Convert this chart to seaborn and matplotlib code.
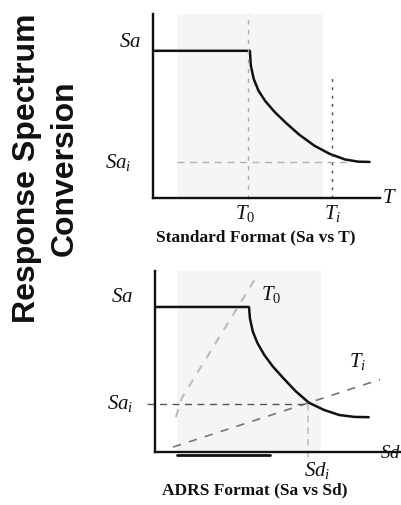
import matplotlib
matplotlib.use('Agg')
import matplotlib.pyplot as plt
import seaborn as sns
import pandas as pd

# ---------------- data (schematic units) ----------------
# standard format: Sa vs T
T_plateau = [0.0, 1.02]
Sa_plateau_top = [1.0, 1.0]
T_curve = [1.02, 1.03, 1.06, 1.11, 1.18, 1.28, 1.40, 1.54, 1.70, 1.86, 2.02, 2.16, 2.28]
Sa_curve_top = [1.0, 0.90, 0.81, 0.73, 0.66, 0.585, 0.51, 0.43, 0.355, 0.30, 0.262, 0.247, 0.245]
T0 = 1.0
Ti = 1.88
Sai_top = 0.245

# ADRS format: Sa vs Sd
Sd_plateau = [0.0, 0.99]
Sa_plateau_bot = [1.0, 1.0]
Sd_curve = [0.99, 1.00, 1.03, 1.08, 1.15, 1.24, 1.35, 1.48, 1.62, 1.78, 1.94, 2.10, 2.25]
Sa_curve_bot = [1.0, 0.92, 0.83, 0.75, 0.67, 0.59, 0.51, 0.42, 0.34, 0.29, 0.255, 0.242, 0.24]
T0_ray_sd = [0.22, 0.28, 1.07]
T0_ray_sa = [0.24, 0.37, 1.21]
Ti_ray_sd = [0.19, 2.37]
Ti_ray_sa = [0.034, 0.50]
Sdi = 1.61
Sai_bot = 0.33

sns.set_style('white')
plt.rcParams['font.family'] = ['Liberation Serif', 'DejaVu Serif']
plt.rcParams['mathtext.fontset'] = 'custom'
plt.rcParams['mathtext.it'] = 'Liberation Serif:italic'
plt.rcParams['mathtext.rm'] = 'Liberation Serif'

fig = plt.figure(figsize=(4.01, 5.06), dpi=100)
W, H = 401, 506


def px_axes(x0, x1, y_top, y_bot):
    return fig.add_axes([x0 / W, 1 - y_bot / H, (x1 - x0) / W, (y_bot - y_top) / H])


def style(ax, xmax, ymax):
    ax.set_xlim(0, xmax)
    ax.set_ylim(0, ymax)
    for s in ['top', 'right']:
        ax.spines[s].set_visible(False)
    for s in ['left', 'bottom']:
        ax.spines[s].set_linewidth(1.7)
        ax.spines[s].set_color('#111111')
    ax.set_xticks([])
    ax.set_yticks([])
    ax.set_xlabel('')
    ax.set_ylabel('')
    ax.patch.set_alpha(0)


lab = dict(fontsize=15, color='#111111')

# ---------------- top panel ----------------
ax1 = px_axes(153, 380, 15, 199)
ax1.axvspan(0.25, 1.79, color='#f5f5f5', zorder=0, lw=0)

top = pd.DataFrame({'T': T_plateau + T_curve, 'Sa': Sa_plateau_top + Sa_curve_top})
sns.lineplot(data=top, x='T', y='Sa', sort=False, color='#111111', lw=1.8, ax=ax1,
             solid_joinstyle='round')

ax1.plot([T0, T0], [-0.01, 1.25], ls=(0, (3, 4)), color='#aaaaaa', lw=1.0, clip_on=False)
ax1.plot([Ti, Ti], [0, 0.82], ls=(0, (2, 4)), color='#444444', lw=1.0, clip_on=False)
ax1.plot([0.25, 2.07], [Sai_top, Sai_top], ls=(0, (5, 4)), color='#b0b0b0', lw=1.0)

style(ax1, 2.39, 1.25)
ax1.text(-0.24, 1.06, '$Sa$', ha='center', va='center', **lab)
ax1.text(-0.37, 0.25, '$Sa_i$', ha='center', va='center', **lab)
ax1.text(2.49, 0.0, '$T$', ha='center', va='center', **lab)
ax1.text(0.97, -0.10, '$T_0$', ha='center', va='center', **lab)
ax1.text(1.89, -0.10, '$T_i$', ha='center', va='center', **lab)
ax1.text(1.08, -0.26, 'Standard Format (Sa vs T)', ha='center', va='center',
         fontsize=12.5, fontweight='bold', color='#111111')

# ---------------- bottom panel ----------------
ax2 = px_axes(155, 400, 272, 453)
ax2.axvspan(0.23, 1.75, color='#f5f5f5', zorder=0, lw=0)

bot = pd.DataFrame({'Sd': Sd_plateau + Sd_curve, 'Sa': Sa_plateau_bot + Sa_curve_bot})
sns.lineplot(data=bot, x='Sd', y='Sa', sort=False, color='#111111', lw=1.8, ax=ax2,
             solid_joinstyle='round')

ax2.plot(T0_ray_sd, T0_ray_sa, ls=(0, (4, 4)), color='#bbbbbb', lw=1.5, clip_on=False)
ax2.plot(Ti_ray_sd, Ti_ray_sa, ls=(0, (5, 5)), color='#777777', lw=1.2, clip_on=False)
ax2.plot([-0.08, Sdi], [Sai_bot, Sai_bot], ls=(0, (5, 4)), color='#555555', lw=1.0, clip_on=False)
ax2.plot([Sdi, Sdi], [Sai_bot, -0.06], ls=(0, (4, 3)), color='#c0c0c0', lw=1.2, clip_on=False)
ax2.plot([0.23, 1.21], [-0.02, -0.02], color='#111111', lw=2.0, clip_on=False)

style(ax2, 2.58, 1.248)
ax2.text(-0.35, 1.07, '$Sa$', ha='center', va='center', **lab)
ax2.text(1.22, 1.09, '$T_0$', ha='center', va='center', **lab)
ax2.text(2.13, 0.63, '$T_i$', ha='center', va='center', **lab)
ax2.text(-0.37, 0.34, '$Sa_i$', ha='center', va='center', **lab)
ax2.text(1.71, -0.12, '$Sd_i$', ha='center', va='center', **lab)
ax2.text(2.37, 0.0, '$Sd$', ha='left', va='center', fontsize=13.5, color='#111111')
ax2.text(1.05, -0.26, 'ADRS Format (Sa vs Sd)', ha='center', va='center',
         fontsize=12.5, fontweight='bold', color='#111111')

# ---------------- side title ----------------
fig.text(27 / W, 1 - 168 / H, 'Response Spectrum', rotation=90, ha='center', va='center',
         fontsize=23, fontweight='bold', family='Liberation Sans', color='#111111')
fig.text(65 / W, 1 - 168 / H, 'Conversion', rotation=90, ha='center', va='center',
         fontsize=23, fontweight='bold', family='Liberation Sans', color='#111111')

fig.savefig('out.png', dpi=100)
